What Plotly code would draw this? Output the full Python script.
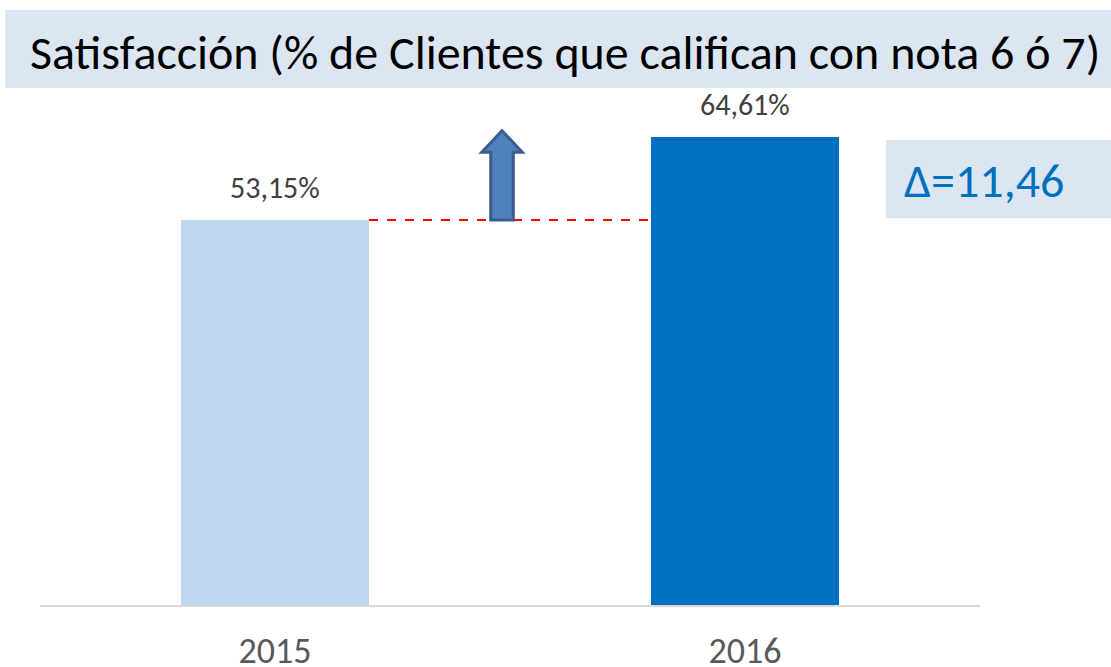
import plotly.graph_objects as go

years = ["2015", "2016"]
values = [53.15, 64.61]
labels = ["53,15%", "64,61%"]
bar_colors = ["#BDD7EE", "#0070C0"]
title_text = "Satisfacción (% de Clientes que califican con nota 6 ó 7)"
delta_text = "Δ=11,46"

FONT = "Carlito, Lato, Noto Sans, sans-serif"

xs = list(range(len(years)))
fig = go.Figure()
fig.add_trace(go.Bar(
    x=xs, y=values, width=0.4, marker=dict(color=bar_colors, line=dict(width=0)),
    hoverinfo="skip",
))

for xv, yv, lab in zip(xs, values, labels):
    fig.add_annotation(x=xv, y=yv, xref="x", yref="y", text=lab, showarrow=False,
                       xanchor="center", yanchor="bottom", yshift=12,
                       font=dict(family=FONT, size=30, color="#404040"))

# dashed reference line from 2015 bar top to 2016 bar
fig.add_shape(type="line", xref="x", yref="y", x0=xs[0] + 0.2, x1=xs[1] - 0.2,
              y0=values[0], y1=values[0], line=dict(color="#FF0000", width=2, dash="dash"))

# up arrow
ax = 0.483
sw = 0.024
hw = 0.043
y_base = values[0]
y_neck = 62.5
y_tip = 65.5
path = (f"M {ax-sw},{y_base} L {ax-sw},{y_neck} L {ax-hw},{y_neck} L {ax},{y_tip} "
        f"L {ax+hw},{y_neck} L {ax+sw},{y_neck} L {ax+sw},{y_base} Z")
fig.add_shape(type="path", xref="x", yref="y", path=path,
              fillcolor="#4F81BD", line=dict(color="#385D8A", width=3))

# title box
fig.add_shape(type="rect", xref="paper", yref="paper", x0=-0.037, x1=1.14, y0=1.0197, y1=1.1736,
              fillcolor="#DCE6F2", line=dict(width=0), layer="below")
fig.add_annotation(xref="paper", yref="paper", x=0.5585, y=1.09, text=title_text, showarrow=False,
                   font=dict(family=FONT, size=48, color="#000000"), xanchor="center", yanchor="middle")

# delta box
fig.add_shape(type="rect", xref="paper", yref="paper", x0=0.9, x1=1.14, y0=0.763, y1=0.917,
              fillcolor="#DCE6F2", line=dict(width=0), layer="below")
fig.add_annotation(xref="paper", yref="paper", x=1.004, y=0.838, text=delta_text, showarrow=False,
                   font=dict(family=FONT, size=48, color="#0070C0"), xanchor="center", yanchor="middle")

fig.update_layout(
    width=1111, height=667,
    margin=dict(l=40, r=131, t=98, b=62, autoexpand=False),
    plot_bgcolor="white", paper_bgcolor="white",
    showlegend=False,
    xaxis=dict(tickmode="array", tickvals=xs, ticktext=years, range=[-0.5, 1.5],
               showline=True, linecolor="#D9D9D9", linewidth=2, showgrid=False, zeroline=False,
               ticks="", ticklabelstandoff=13, automargin=False,
               tickfont=dict(family=FONT, size=36, color="#595959")),
    yaxis=dict(range=[0, 70], visible=False, showgrid=False, zeroline=False, automargin=False),
)

fig.write_html("out.html", config={"displayModeBar": False},
               post_script="document.body.style.margin='0';")
